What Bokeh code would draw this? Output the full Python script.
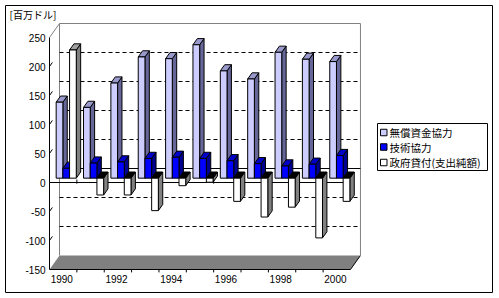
from bokeh.plotting import figure
from bokeh.models import Range1d, ColumnDataSource
from bokeh.core.properties import value
from bokeh.embed import file_html
from bokeh.resources import INLINE

# ---------------- data ----------------
years = [1990, 1991, 1992, 1993, 1994, 1995, 1996, 1997, 1998, 1999, 2000]
grant_aid = [131, 122, 164, 209, 206, 230, 185, 171, 217, 205, 201]
tech_coop = [17, 26, 28, 34, 36, 34, 30, 25, 21, 24, 39]
gov_loans = [221, -29, -29, -56, -13, -7, -40, -67, -50, -103, -40]
series_names = ["無償資金協力", "技術協力", "政府貸付(支出純額)"]
y_ticks = [250, 200, 150, 100, 50, 0, -50, -100, -150]
y_tick_labels = ["250", "200", "150", "100", "50", "0", "-50", "-100", "-150"]
x_label_years = ["1990", "1992", "1994", "1996", "1998", "2000"]
unit_label = "[百万ドル]"

# ---------------- layout / style ----------------
W_PX, H_PX = 499, 298
X0 = 49.0          # px of category axis start (front plane)
CAT_PX = 27.36     # px per category
V0_PX = 182.0      # px (from top) of value 0 on front plane
V_PX = 0.58        # px per value unit
VMIN, VMAX = -150, 250
DX = 10.0 / CAT_PX   # depth offset in category units
DY = 14.0 / V_PX     # depth offset in value units
F0, BD = 0.31, 0.44  # bar front depth fraction, bar depth fraction
MARGIN, BW = 0.13, 0.245

def px_x(px):
    return (px - X0) / CAT_PX

def px_y(py):
    return (V0_PX - py) / V_PX

front_cols = ["#CCCCFF", "#0000FF", "#FFFFFF"]
side_cols = ["#666699", "#000090", "#808080"]
top_cols = ["#9999CC", "#0000C8", "#A0A0A0"]
neg_top_cols = ["#333366", "#000040", "#000000"]

p = figure(width=W_PX, height=H_PX,
           x_range=Range1d(px_x(0), px_x(W_PX)),
           y_range=Range1d(px_y(H_PX), px_y(0)),
           output_backend="svg", toolbar_location=None,
           x_axis_type=None, y_axis_type=None, min_border=0)
p.outline_line_color = None
p.background_fill_color = "white"
p.border_fill_color = "white"

n = len(years)

# outer frame
fx = [px_x(5), px_x(492), px_x(492), px_x(5), px_x(5)]
fy = [px_y(5), px_y(5), px_y(292), px_y(292), px_y(5)]
p.line(fx, fy, line_color="black", line_width=1)

# floor
p.patch([0, n, n + DX, DX], [VMIN, VMIN, VMIN + DY, VMIN + DY],
        fill_color="#808080", line_color=None)
p.line([0, n, n + DX], [VMIN, VMIN, VMIN + DY], line_color="black", line_width=1)

# back wall and side wall edges
p.line([DX, DX, n + DX, n + DX], [VMIN + DY, VMAX + DY, VMAX + DY, VMIN + DY],
       line_color="#808080", line_width=1)
p.line([0, DX], [VMAX, VMAX + DY], line_color="#808080", line_width=1)

# gridlines
for t in y_ticks:
    if t in (VMIN, VMAX):
        continue
    if t == 0:
        p.line([DX, n + DX], [DY, DY], line_color="black", line_width=1)
        p.line([0, n], [0, 0], line_color="black", line_width=1)
    else:
        p.line([DX, n + DX], [t + DY, t + DY], line_color="black",
               line_width=1, line_dash="4 3")
        p.line([0, DX], [t, t + DY], line_color="black", line_width=1,
               line_dash="5 20")

# front value axis
p.line([0, 0], [VMIN, VMAX], line_color="black", line_width=1)

# category ticks at zero line and floor
tick_src = ColumnDataSource(dict(x=list(range(1, n)),))
p.segment(x0=list(range(1, n)), y0=[5] * (n - 1), x1=list(range(1, n)), y1=[-2] * (n - 1),
          line_color="black", line_width=1)
p.segment(x0=list(range(1, n)), y0=[VMIN] * (n - 1), x1=list(range(1, n)),
          y1=[VMIN - 5] * (n - 1), line_color="black", line_width=1)

# bars (painter's order, left to right)
series = [grant_aid, tech_coop, gov_loans]
xs, ys, fills = [], [], []
bx, by = BD * DX, BD * DY
for i in range(n):
    for s, vals in enumerate(series):
        v = vals[i]
        xl = i + MARGIN + s * BW + F0 * DX
        xr = xl + BW
        lo = min(0, v) + F0 * DY
        hi = max(0, v) + F0 * DY
        # side
        xs.append([xr, xr + bx, xr + bx, xr])
        ys.append([lo, lo + by, hi + by, hi])
        fills.append(side_cols[s])
        # top
        xs.append([xl, xr, xr + bx, xl + bx])
        ys.append([hi, hi, hi + by, hi + by])
        fills.append(top_cols[s] if v >= 0 else neg_top_cols[s])
        # front
        xs.append([xl, xr, xr, xl])
        ys.append([lo, lo, hi, hi])
        fills.append(front_cols[s])
p.patches(xs="xs", ys="ys", fill_color="fc",
          source=ColumnDataSource(dict(xs=xs, ys=ys, fc=fills)),
          line_color="black", line_width=1)

# value tick labels
p.text(x=[px_x(45)] * len(y_ticks), y=y_ticks, text=y_tick_labels,
       text_font=value("Liberation Sans"), text_font_size="10px",
       text_align="right", text_baseline="middle", text_color="black")

# year labels
lab_x = [years.index(int(y)) + 0.45 for y in x_label_years]
p.text(x=lab_x, y=[px_y(278)] * len(lab_x), text=x_label_years,
       text_font=value("Liberation Sans"), text_font_size="10px",
       text_align="center", text_baseline="middle", text_color="black")

# unit label
p.text(x=[px_x(9)], y=[px_y(14)], text=[unit_label],
       text_font=value("Noto Sans CJK JP"), text_font_size="10px",
       text_align="left", text_baseline="middle", text_color="black")

# legend
lx0, lx1, ly0, ly1 = px_x(377), px_x(487), px_y(123), px_y(170)
p.quad(left=[lx0], right=[lx1], top=[ly0], bottom=[ly1],
       fill_color="white", line_color="black", line_width=1)
leg_y = [132, 146.5, 162]
p.quad(left=[px_x(380)] * 3, right=[px_x(386.5)] * 3,
       top=[px_y(py - 3.25) for py in leg_y], bottom=[px_y(py + 3.25) for py in leg_y],
       fill_color=front_cols, line_color="black", line_width=1)
p.text(x=[px_x(389)] * 3, y=[px_y(py) for py in leg_y], text=series_names,
       text_font=value("Noto Sans CJK JP"), text_font_size="10.5px",
       text_align="left", text_baseline="middle", text_color="black")

open("out.html", "w").write(file_html(p, INLINE))
